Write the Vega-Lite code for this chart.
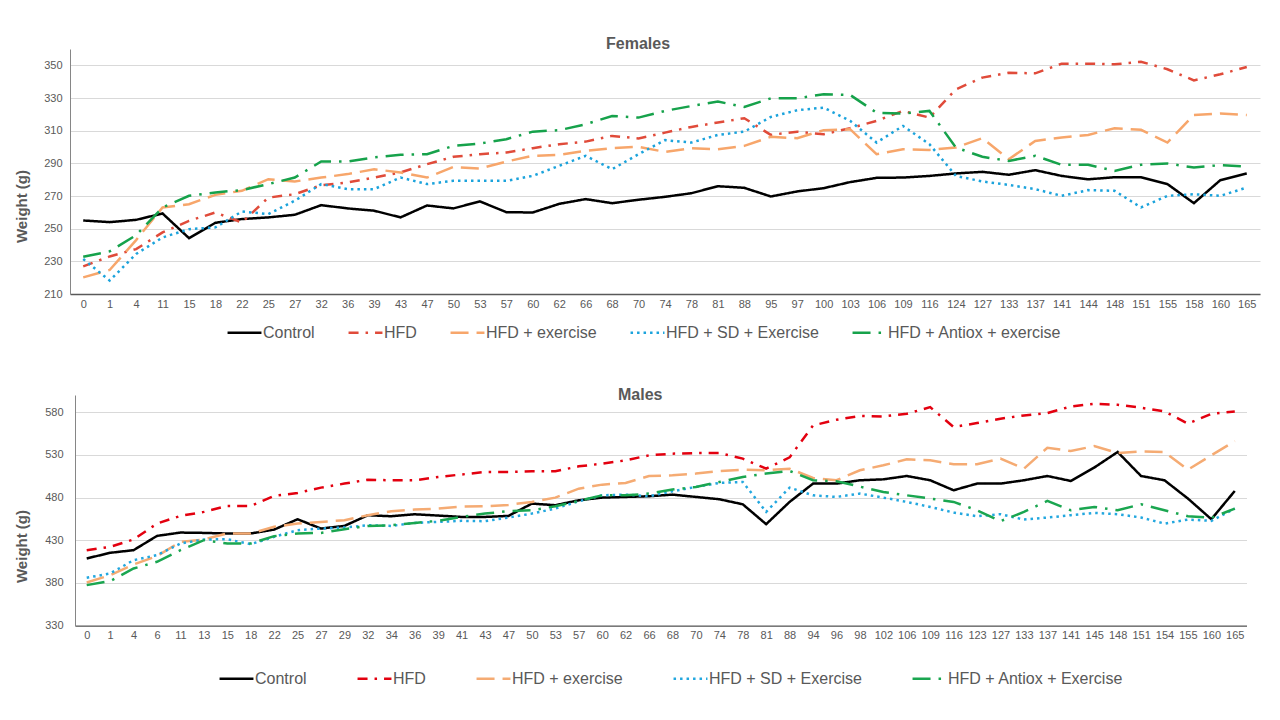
{
  "$schema": "https://vega.github.io/schema/vega-lite/v6.json",
  "padding": {"left": 14, "top": 36, "right": 10, "bottom": 5},
  "config": {
    "font": "Liberation Sans",
    "view": {"stroke": null},
    "axis": {"labelColor": "#595959", "titleColor": "#595959", "gridColor": "#D9D9D9", "domainColor": "#868686", "ticks": false, "labelFont": "Liberation Sans", "labelFontSize": 11, "titleFont": "Liberation Sans"},
    "title": {"fontSize": 16, "color": "#595959", "font": "Liberation Sans", "fontWeight": "bold"},
    "legend": {"symbolType": "stroke", "symbolSize": 1150, "symbolStrokeWidth": 2.5, "labelFontSize": 16, "labelColor": "#595959", "labelOffset": 0, "labelLimit": 400, "labelFont": "Liberation Sans"},
    "concat": {"spacing": 46}
  },
  "datasets": {
    "females": [
      {"day":0,"group":"Control","weight":255},{"day":1,"group":"Control","weight":254},{"day":4,"group":"Control","weight":255.4},{"day":11,"group":"Control","weight":259.3},{"day":15,"group":"Control","weight":244.2},{"day":18,"group":"Control","weight":253.6},{"day":22,"group":"Control","weight":255.9},{"day":25,"group":"Control","weight":256.9},{"day":27,"group":"Control","weight":258.5},{"day":32,"group":"Control","weight":264.4},{"day":36,"group":"Control","weight":262.4},{"day":39,"group":"Control","weight":261},{"day":43,"group":"Control","weight":256.9},{"day":47,"group":"Control","weight":264.2},{"day":50,"group":"Control","weight":262.4},{"day":53,"group":"Control","weight":266.7},{"day":57,"group":"Control","weight":260.1},{"day":60,"group":"Control","weight":259.9},{"day":62,"group":"Control","weight":265.2},{"day":66,"group":"Control","weight":268.1},{"day":68,"group":"Control","weight":265.6},{"day":70,"group":"Control","weight":267.7},{"day":74,"group":"Control","weight":269.5},{"day":78,"group":"Control","weight":271.7},{"day":81,"group":"Control","weight":276},{"day":88,"group":"Control","weight":275},{"day":95,"group":"Control","weight":269.7},{"day":97,"group":"Control","weight":272.8},{"day":100,"group":"Control","weight":274.8},{"day":103,"group":"Control","weight":278.5},{"day":106,"group":"Control","weight":281.1},{"day":109,"group":"Control","weight":281.3},{"day":116,"group":"Control","weight":282.3},{"day":124,"group":"Control","weight":283.8},{"day":127,"group":"Control","weight":284.8},{"day":133,"group":"Control","weight":283},{"day":137,"group":"Control","weight":285.8},{"day":141,"group":"Control","weight":282.3},{"day":144,"group":"Control","weight":280.2},{"day":148,"group":"Control","weight":281.5},{"day":151,"group":"Control","weight":281.5},{"day":155,"group":"Control","weight":277.3},{"day":158,"group":"Control","weight":265.6},{"day":160,"group":"Control","weight":279.7},{"day":165,"group":"Control","weight":283.8},
      {"day":0,"group":"HFD","weight":226.9},{"day":1,"group":"HFD","weight":233},{"day":4,"group":"HFD","weight":237.5},{"day":11,"group":"HFD","weight":247.7},{"day":15,"group":"HFD","weight":254.8},{"day":18,"group":"HFD","weight":259.9},{"day":22,"group":"HFD","weight":253.8},{"day":25,"group":"HFD","weight":269},{"day":27,"group":"HFD","weight":271.1},{"day":32,"group":"HFD","weight":276.6},{"day":36,"group":"HFD","weight":278.3},{"day":39,"group":"HFD","weight":281.3},{"day":43,"group":"HFD","weight":284.4},{"day":47,"group":"HFD","weight":289.5},{"day":50,"group":"HFD","weight":294},{"day":53,"group":"HFD","weight":295.6},{"day":57,"group":"HFD","weight":296.6},{"day":60,"group":"HFD","weight":299.3},{"day":62,"group":"HFD","weight":301.7},{"day":66,"group":"HFD","weight":303.3},{"day":68,"group":"HFD","weight":306.8},{"day":70,"group":"HFD","weight":305.2},{"day":74,"group":"HFD","weight":308.8},{"day":78,"group":"HFD","weight":312.3},{"day":81,"group":"HFD","weight":315},{"day":88,"group":"HFD","weight":317.6},{"day":95,"group":"HFD","weight":307.4},{"day":97,"group":"HFD","weight":309.4},{"day":100,"group":"HFD","weight":307.8},{"day":103,"group":"HFD","weight":311.5},{"day":106,"group":"HFD","weight":316},{"day":109,"group":"HFD","weight":322.1},{"day":116,"group":"HFD","weight":318},{"day":124,"group":"HFD","weight":335.3},{"day":127,"group":"HFD","weight":342.5},{"day":133,"group":"HFD","weight":345.5},{"day":137,"group":"HFD","weight":345.1},{"day":141,"group":"HFD","weight":351},{"day":144,"group":"HFD","weight":351},{"day":148,"group":"HFD","weight":350.6},{"day":151,"group":"HFD","weight":352.2},{"day":155,"group":"HFD","weight":347.6},{"day":158,"group":"HFD","weight":340.8},{"day":160,"group":"HFD","weight":344.5},{"day":165,"group":"HFD","weight":349},
      {"day":0,"group":"HFD + exercise","weight":220.2},{"day":1,"group":"HFD + exercise","weight":224.7},{"day":4,"group":"HFD + exercise","weight":243},{"day":11,"group":"HFD + exercise","weight":263},{"day":15,"group":"HFD + exercise","weight":265},{"day":18,"group":"HFD + exercise","weight":270.7},{"day":22,"group":"HFD + exercise","weight":273.2},{"day":25,"group":"HFD + exercise","weight":280.3},{"day":27,"group":"HFD + exercise","weight":278.9},{"day":32,"group":"HFD + exercise","weight":281.3},{"day":36,"group":"HFD + exercise","weight":283.4},{"day":39,"group":"HFD + exercise","weight":286.4},{"day":43,"group":"HFD + exercise","weight":284.4},{"day":47,"group":"HFD + exercise","weight":281.3},{"day":50,"group":"HFD + exercise","weight":287.8},{"day":53,"group":"HFD + exercise","weight":286.8},{"day":57,"group":"HFD + exercise","weight":291.1},{"day":60,"group":"HFD + exercise","weight":294.6},{"day":62,"group":"HFD + exercise","weight":295.2},{"day":66,"group":"HFD + exercise","weight":297.6},{"day":68,"group":"HFD + exercise","weight":299.3},{"day":70,"group":"HFD + exercise","weight":300.1},{"day":74,"group":"HFD + exercise","weight":297},{"day":78,"group":"HFD + exercise","weight":299.3},{"day":81,"group":"HFD + exercise","weight":298.6},{"day":88,"group":"HFD + exercise","weight":300.7},{"day":95,"group":"HFD + exercise","weight":306.2},{"day":97,"group":"HFD + exercise","weight":305.4},{"day":100,"group":"HFD + exercise","weight":310.3},{"day":103,"group":"HFD + exercise","weight":310.9},{"day":106,"group":"HFD + exercise","weight":295.6},{"day":109,"group":"HFD + exercise","weight":298.6},{"day":116,"group":"HFD + exercise","weight":298.2},{"day":124,"group":"HFD + exercise","weight":299.7},{"day":127,"group":"HFD + exercise","weight":305.4},{"day":133,"group":"HFD + exercise","weight":292.5},{"day":137,"group":"HFD + exercise","weight":303.7},{"day":141,"group":"HFD + exercise","weight":305.8},{"day":144,"group":"HFD + exercise","weight":307.4},{"day":148,"group":"HFD + exercise","weight":311.5},{"day":151,"group":"HFD + exercise","weight":310.5},{"day":155,"group":"HFD + exercise","weight":302.7},{"day":158,"group":"HFD + exercise","weight":319.6},{"day":160,"group":"HFD + exercise","weight":320.5},{"day":165,"group":"HFD + exercise","weight":319.6},
      {"day":0,"group":"HFD + SD + Exercise","weight":231.4},{"day":1,"group":"HFD + SD + Exercise","weight":218.2},{"day":4,"group":"HFD + SD + Exercise","weight":234.5},{"day":11,"group":"HFD + SD + Exercise","weight":244.6},{"day":15,"group":"HFD + SD + Exercise","weight":249.7},{"day":18,"group":"HFD + SD + Exercise","weight":250.8},{"day":22,"group":"HFD + SD + Exercise","weight":260.5},{"day":25,"group":"HFD + SD + Exercise","weight":258.9},{"day":27,"group":"HFD + SD + Exercise","weight":267.1},{"day":32,"group":"HFD + SD + Exercise","weight":277.3},{"day":36,"group":"HFD + SD + Exercise","weight":274.2},{"day":39,"group":"HFD + SD + Exercise","weight":274.2},{"day":43,"group":"HFD + SD + Exercise","weight":281.3},{"day":47,"group":"HFD + SD + Exercise","weight":277.3},{"day":50,"group":"HFD + SD + Exercise","weight":279.3},{"day":53,"group":"HFD + SD + Exercise","weight":279.3},{"day":57,"group":"HFD + SD + Exercise","weight":279.3},{"day":60,"group":"HFD + SD + Exercise","weight":282.3},{"day":62,"group":"HFD + SD + Exercise","weight":288.5},{"day":66,"group":"HFD + SD + Exercise","weight":294.6},{"day":68,"group":"HFD + SD + Exercise","weight":286.4},{"day":70,"group":"HFD + SD + Exercise","weight":295.6},{"day":74,"group":"HFD + SD + Exercise","weight":304.2},{"day":78,"group":"HFD + SD + Exercise","weight":302.7},{"day":81,"group":"HFD + SD + Exercise","weight":307.4},{"day":88,"group":"HFD + SD + Exercise","weight":309.4},{"day":95,"group":"HFD + SD + Exercise","weight":318.4},{"day":97,"group":"HFD + SD + Exercise","weight":322.5},{"day":100,"group":"HFD + SD + Exercise","weight":324.1},{"day":103,"group":"HFD + SD + Exercise","weight":316},{"day":106,"group":"HFD + SD + Exercise","weight":302.7},{"day":109,"group":"HFD + SD + Exercise","weight":312.9},{"day":116,"group":"HFD + SD + Exercise","weight":301.7},{"day":124,"group":"HFD + SD + Exercise","weight":282.3},{"day":127,"group":"HFD + SD + Exercise","weight":278.9},{"day":133,"group":"HFD + SD + Exercise","weight":276.8},{"day":137,"group":"HFD + SD + Exercise","weight":274.2},{"day":141,"group":"HFD + SD + Exercise","weight":270.1},{"day":144,"group":"HFD + SD + Exercise","weight":273.6},{"day":148,"group":"HFD + SD + Exercise","weight":273.2},{"day":151,"group":"HFD + SD + Exercise","weight":263},{"day":155,"group":"HFD + SD + Exercise","weight":270.1},{"day":158,"group":"HFD + SD + Exercise","weight":271.1},{"day":160,"group":"HFD + SD + Exercise","weight":270.1},{"day":165,"group":"HFD + SD + Exercise","weight":275.2},
      {"day":0,"group":"HFD + Antiox + exercise","weight":232.8},{"day":1,"group":"HFD + Antiox + exercise","weight":236.1},{"day":4,"group":"HFD + Antiox + exercise","weight":246},{"day":11,"group":"HFD + Antiox + exercise","weight":263},{"day":15,"group":"HFD + Antiox + exercise","weight":270.1},{"day":18,"group":"HFD + Antiox + exercise","weight":272.2},{"day":22,"group":"HFD + Antiox + exercise","weight":273.6},{"day":25,"group":"HFD + Antiox + exercise","weight":277.3},{"day":27,"group":"HFD + Antiox + exercise","weight":281.3},{"day":32,"group":"HFD + Antiox + exercise","weight":291.1},{"day":36,"group":"HFD + Antiox + exercise","weight":291.1},{"day":39,"group":"HFD + Antiox + exercise","weight":293.6},{"day":43,"group":"HFD + Antiox + exercise","weight":295.2},{"day":47,"group":"HFD + Antiox + exercise","weight":295.6},{"day":50,"group":"HFD + Antiox + exercise","weight":300.7},{"day":53,"group":"HFD + Antiox + exercise","weight":302.1},{"day":57,"group":"HFD + Antiox + exercise","weight":304.8},{"day":60,"group":"HFD + Antiox + exercise","weight":309.4},{"day":62,"group":"HFD + Antiox + exercise","weight":310.3},{"day":66,"group":"HFD + Antiox + exercise","weight":313.9},{"day":68,"group":"HFD + Antiox + exercise","weight":319},{"day":70,"group":"HFD + Antiox + exercise","weight":318},{"day":74,"group":"HFD + Antiox + exercise","weight":322.1},{"day":78,"group":"HFD + Antiox + exercise","weight":325.1},{"day":81,"group":"HFD + Antiox + exercise","weight":327.8},{"day":88,"group":"HFD + Antiox + exercise","weight":324.5},{"day":95,"group":"HFD + Antiox + exercise","weight":329.8},{"day":97,"group":"HFD + Antiox + exercise","weight":329.8},{"day":100,"group":"HFD + Antiox + exercise","weight":332.3},{"day":103,"group":"HFD + Antiox + exercise","weight":331.9},{"day":106,"group":"HFD + Antiox + exercise","weight":321},{"day":109,"group":"HFD + Antiox + exercise","weight":320.5},{"day":116,"group":"HFD + Antiox + exercise","weight":322.1},{"day":124,"group":"HFD + Antiox + exercise","weight":299.7},{"day":127,"group":"HFD + Antiox + exercise","weight":294},{"day":133,"group":"HFD + Antiox + exercise","weight":291.5},{"day":137,"group":"HFD + Antiox + exercise","weight":294.6},{"day":141,"group":"HFD + Antiox + exercise","weight":289.1},{"day":144,"group":"HFD + Antiox + exercise","weight":289.1},{"day":148,"group":"HFD + Antiox + exercise","weight":285.4},{"day":151,"group":"HFD + Antiox + exercise","weight":289.1},{"day":155,"group":"HFD + Antiox + exercise","weight":289.9},{"day":158,"group":"HFD + Antiox + exercise","weight":287.4},{"day":160,"group":"HFD + Antiox + exercise","weight":288.9},{"day":165,"group":"HFD + Antiox + exercise","weight":288.1}
    ],
    "males": [
      {"day":0,"group":"Control","weight":408.7},{"day":1,"group":"Control","weight":415.3},{"day":4,"group":"Control","weight":418.4},{"day":6,"group":"Control","weight":435.1},{"day":11,"group":"Control","weight":439},{"day":13,"group":"Control","weight":438.6},{"day":15,"group":"Control","weight":437.9},{"day":18,"group":"Control","weight":437.9},{"day":22,"group":"Control","weight":442.5},{"day":25,"group":"Control","weight":454.6},{"day":27,"group":"Control","weight":443.7},{"day":29,"group":"Control","weight":446.8},{"day":32,"group":"Control","weight":459.3},{"day":34,"group":"Control","weight":458.1},{"day":36,"group":"Control","weight":460.4},{"day":39,"group":"Control","weight":458.9},{"day":41,"group":"Control","weight":457.3},{"day":43,"group":"Control","weight":457.3},{"day":47,"group":"Control","weight":458.5},{"day":50,"group":"Control","weight":472.9},{"day":53,"group":"Control","weight":471},{"day":57,"group":"Control","weight":476.8},{"day":60,"group":"Control","weight":479.9},{"day":62,"group":"Control","weight":480.7},{"day":66,"group":"Control","weight":481.5},{"day":68,"group":"Control","weight":483.4},{"day":70,"group":"Control","weight":480.7},{"day":74,"group":"Control","weight":478},{"day":78,"group":"Control","weight":472.1},{"day":81,"group":"Control","weight":448.8},{"day":88,"group":"Control","weight":474.9},{"day":94,"group":"Control","weight":496.3},{"day":96,"group":"Control","weight":496.3},{"day":98,"group":"Control","weight":500.2},{"day":102,"group":"Control","weight":501.3},{"day":106,"group":"Control","weight":505.2},{"day":109,"group":"Control","weight":500.2},{"day":116,"group":"Control","weight":488.5},{"day":123,"group":"Control","weight":496.3},{"day":127,"group":"Control","weight":496.3},{"day":133,"group":"Control","weight":500.2},{"day":137,"group":"Control","weight":505.2},{"day":141,"group":"Control","weight":499.4},{"day":145,"group":"Control","weight":515},{"day":148,"group":"Control","weight":533.3},{"day":151,"group":"Control","weight":505.2},{"day":154,"group":"Control","weight":500.2},{"day":155,"group":"Control","weight":478.8},{"day":160,"group":"Control","weight":454.6},{"day":165,"group":"Control","weight":487.7},
      {"day":0,"group":"HFD","weight":418.4},{"day":1,"group":"HFD","weight":422.3},{"day":4,"group":"HFD","weight":430.9},{"day":6,"group":"HFD","weight":449.5},{"day":11,"group":"HFD","weight":458.5},{"day":13,"group":"HFD","weight":463.2},{"day":15,"group":"HFD","weight":470.2},{"day":18,"group":"HFD","weight":470.2},{"day":22,"group":"HFD","weight":481.9},{"day":25,"group":"HFD","weight":485.4},{"day":27,"group":"HFD","weight":491.6},{"day":29,"group":"HFD","weight":496.3},{"day":32,"group":"HFD","weight":500.9},{"day":34,"group":"HFD","weight":500.2},{"day":36,"group":"HFD","weight":500.2},{"day":39,"group":"HFD","weight":504.1},{"day":41,"group":"HFD","weight":507},{"day":43,"group":"HFD","weight":509.9},{"day":47,"group":"HFD","weight":509.9},{"day":50,"group":"HFD","weight":510.7},{"day":53,"group":"HFD","weight":510.7},{"day":57,"group":"HFD","weight":516.5},{"day":60,"group":"HFD","weight":519.6},{"day":62,"group":"HFD","weight":523.5},{"day":66,"group":"HFD","weight":529.4},{"day":68,"group":"HFD","weight":531.3},{"day":70,"group":"HFD","weight":532.1},{"day":74,"group":"HFD","weight":532.1},{"day":78,"group":"HFD","weight":525.5},{"day":81,"group":"HFD","weight":513.8},{"day":88,"group":"HFD","weight":527},{"day":94,"group":"HFD","weight":564.4},{"day":96,"group":"HFD","weight":571},{"day":98,"group":"HFD","weight":575.5},{"day":102,"group":"HFD","weight":574.9},{"day":106,"group":"HFD","weight":578},{"day":109,"group":"HFD","weight":585.8},{"day":116,"group":"HFD","weight":562.5},{"day":123,"group":"HFD","weight":567.2},{"day":127,"group":"HFD","weight":572.2},{"day":133,"group":"HFD","weight":576.1},{"day":137,"group":"HFD","weight":578.8},{"day":141,"group":"HFD","weight":586.6},{"day":145,"group":"HFD","weight":589.7},{"day":148,"group":"HFD","weight":588.6},{"day":151,"group":"HFD","weight":585.1},{"day":154,"group":"HFD","weight":580.8},{"day":155,"group":"HFD","weight":566.4},{"day":160,"group":"HFD","weight":578},{"day":165,"group":"HFD","weight":580.8},
      {"day":0,"group":"HFD + exercise","weight":380.6},{"day":1,"group":"HFD + exercise","weight":389.2},{"day":4,"group":"HFD + exercise","weight":401.7},{"day":6,"group":"HFD + exercise","weight":411.4},{"day":11,"group":"HFD + exercise","weight":428.1},{"day":13,"group":"HFD + exercise","weight":430.9},{"day":15,"group":"HFD + exercise","weight":437.9},{"day":18,"group":"HFD + exercise","weight":437.9},{"day":22,"group":"HFD + exercise","weight":445.7},{"day":25,"group":"HFD + exercise","weight":449.5},{"day":27,"group":"HFD + exercise","weight":451.5},{"day":29,"group":"HFD + exercise","weight":453.4},{"day":32,"group":"HFD + exercise","weight":459.3},{"day":34,"group":"HFD + exercise","weight":464},{"day":36,"group":"HFD + exercise","weight":465.9},{"day":39,"group":"HFD + exercise","weight":467.1},{"day":41,"group":"HFD + exercise","weight":469.4},{"day":43,"group":"HFD + exercise","weight":469.8},{"day":47,"group":"HFD + exercise","weight":471.4},{"day":50,"group":"HFD + exercise","weight":474.9},{"day":53,"group":"HFD + exercise","weight":479.9},{"day":57,"group":"HFD + exercise","weight":490.4},{"day":60,"group":"HFD + exercise","weight":495.1},{"day":62,"group":"HFD + exercise","weight":497.1},{"day":66,"group":"HFD + exercise","weight":505.2},{"day":68,"group":"HFD + exercise","weight":506},{"day":70,"group":"HFD + exercise","weight":508},{"day":74,"group":"HFD + exercise","weight":511.1},{"day":78,"group":"HFD + exercise","weight":512.6},{"day":81,"group":"HFD + exercise","weight":511.9},{"day":88,"group":"HFD + exercise","weight":513.8},{"day":94,"group":"HFD + exercise","weight":502.9},{"day":96,"group":"HFD + exercise","weight":500.2},{"day":98,"group":"HFD + exercise","weight":511.9},{"day":102,"group":"HFD + exercise","weight":517.7},{"day":106,"group":"HFD + exercise","weight":524.7},{"day":109,"group":"HFD + exercise","weight":523.5},{"day":116,"group":"HFD + exercise","weight":518.9},{"day":123,"group":"HFD + exercise","weight":518.9},{"day":127,"group":"HFD + exercise","weight":525.5},{"day":133,"group":"HFD + exercise","weight":513.8},{"day":137,"group":"HFD + exercise","weight":538.3},{"day":141,"group":"HFD + exercise","weight":534.4},{"day":145,"group":"HFD + exercise","weight":540.2},{"day":148,"group":"HFD + exercise","weight":532.1},{"day":151,"group":"HFD + exercise","weight":534},{"day":154,"group":"HFD + exercise","weight":533.3},{"day":155,"group":"HFD + exercise","weight":512.6},{"day":160,"group":"HFD + exercise","weight":529.4},{"day":165,"group":"HFD + exercise","weight":546.1},
      {"day":0,"group":"HFD + SD + Exercise","weight":386.1},{"day":1,"group":"HFD + SD + Exercise","weight":391.1},{"day":4,"group":"HFD + SD + Exercise","weight":406.7},{"day":6,"group":"HFD + SD + Exercise","weight":412.6},{"day":11,"group":"HFD + SD + Exercise","weight":426.2},{"day":13,"group":"HFD + SD + Exercise","weight":430.9},{"day":15,"group":"HFD + SD + Exercise","weight":431.2},{"day":18,"group":"HFD + SD + Exercise","weight":425.4},{"day":22,"group":"HFD + SD + Exercise","weight":434},{"day":25,"group":"HFD + SD + Exercise","weight":441.8},{"day":27,"group":"HFD + SD + Exercise","weight":443.7},{"day":29,"group":"HFD + SD + Exercise","weight":444.9},{"day":32,"group":"HFD + SD + Exercise","weight":447.6},{"day":34,"group":"HFD + SD + Exercise","weight":446.8},{"day":36,"group":"HFD + SD + Exercise","weight":450.3},{"day":39,"group":"HFD + SD + Exercise","weight":451.5},{"day":41,"group":"HFD + SD + Exercise","weight":452.7},{"day":43,"group":"HFD + SD + Exercise","weight":452.3},{"day":47,"group":"HFD + SD + Exercise","weight":456.6},{"day":50,"group":"HFD + SD + Exercise","weight":461.2},{"day":53,"group":"HFD + SD + Exercise","weight":467.1},{"day":57,"group":"HFD + SD + Exercise","weight":475.6},{"day":60,"group":"HFD + SD + Exercise","weight":482.6},{"day":62,"group":"HFD + SD + Exercise","weight":483.4},{"day":66,"group":"HFD + SD + Exercise","weight":481.5},{"day":68,"group":"HFD + SD + Exercise","weight":487.3},{"day":70,"group":"HFD + SD + Exercise","weight":492.4},{"day":74,"group":"HFD + SD + Exercise","weight":497.1},{"day":78,"group":"HFD + SD + Exercise","weight":498.2},{"day":81,"group":"HFD + SD + Exercise","weight":463.2},{"day":88,"group":"HFD + SD + Exercise","weight":491.6},{"day":94,"group":"HFD + SD + Exercise","weight":482.6},{"day":96,"group":"HFD + SD + Exercise","weight":480.7},{"day":98,"group":"HFD + SD + Exercise","weight":484.6},{"day":102,"group":"HFD + SD + Exercise","weight":479.9},{"day":106,"group":"HFD + SD + Exercise","weight":474.9},{"day":109,"group":"HFD + SD + Exercise","weight":469},{"day":116,"group":"HFD + SD + Exercise","weight":462.4},{"day":123,"group":"HFD + SD + Exercise","weight":458.1},{"day":127,"group":"HFD + SD + Exercise","weight":460.5},{"day":133,"group":"HFD + SD + Exercise","weight":454.2},{"day":137,"group":"HFD + SD + Exercise","weight":456.6},{"day":141,"group":"HFD + SD + Exercise","weight":459.3},{"day":145,"group":"HFD + SD + Exercise","weight":462},{"day":148,"group":"HFD + SD + Exercise","weight":460.5},{"day":151,"group":"HFD + SD + Exercise","weight":456.6},{"day":154,"group":"HFD + SD + Exercise","weight":449.5},{"day":155,"group":"HFD + SD + Exercise","weight":454.2},{"day":160,"group":"HFD + SD + Exercise","weight":452.7},{"day":165,"group":"HFD + SD + Exercise","weight":467.1},
      {"day":0,"group":"HFD + Antiox + Exercise","weight":377.5},{"day":1,"group":"HFD + Antiox + Exercise","weight":382.2},{"day":4,"group":"HFD + Antiox + Exercise","weight":397},{"day":6,"group":"HFD + Antiox + Exercise","weight":404.8},{"day":11,"group":"HFD + Antiox + Exercise","weight":418.4},{"day":13,"group":"HFD + Antiox + Exercise","weight":430.1},{"day":15,"group":"HFD + Antiox + Exercise","weight":426.2},{"day":18,"group":"HFD + Antiox + Exercise","weight":426.2},{"day":22,"group":"HFD + Antiox + Exercise","weight":434.8},{"day":25,"group":"HFD + Antiox + Exercise","weight":437.9},{"day":27,"group":"HFD + Antiox + Exercise","weight":438.6},{"day":29,"group":"HFD + Antiox + Exercise","weight":442.9},{"day":32,"group":"HFD + Antiox + Exercise","weight":446.8},{"day":34,"group":"HFD + Antiox + Exercise","weight":447.6},{"day":36,"group":"HFD + Antiox + Exercise","weight":450.3},{"day":39,"group":"HFD + Antiox + Exercise","weight":452.7},{"day":41,"group":"HFD + Antiox + Exercise","weight":457.3},{"day":43,"group":"HFD + Antiox + Exercise","weight":461.2},{"day":47,"group":"HFD + Antiox + Exercise","weight":464},{"day":50,"group":"HFD + Antiox + Exercise","weight":465.1},{"day":53,"group":"HFD + Antiox + Exercise","weight":469.8},{"day":57,"group":"HFD + Antiox + Exercise","weight":476},{"day":60,"group":"HFD + Antiox + Exercise","weight":482.6},{"day":62,"group":"HFD + Antiox + Exercise","weight":482.6},{"day":66,"group":"HFD + Antiox + Exercise","weight":484.6},{"day":68,"group":"HFD + Antiox + Exercise","weight":489.3},{"day":70,"group":"HFD + Antiox + Exercise","weight":492.4},{"day":74,"group":"HFD + Antiox + Exercise","weight":498.2},{"day":78,"group":"HFD + Antiox + Exercise","weight":504.1},{"day":81,"group":"HFD + Antiox + Exercise","weight":508},{"day":88,"group":"HFD + Antiox + Exercise","weight":511.1},{"day":94,"group":"HFD + Antiox + Exercise","weight":500.2},{"day":96,"group":"HFD + Antiox + Exercise","weight":499},{"day":98,"group":"HFD + Antiox + Exercise","weight":492.8},{"day":102,"group":"HFD + Antiox + Exercise","weight":486.5},{"day":106,"group":"HFD + Antiox + Exercise","weight":482.6},{"day":109,"group":"HFD + Antiox + Exercise","weight":478.8},{"day":116,"group":"HFD + Antiox + Exercise","weight":474.9},{"day":123,"group":"HFD + Antiox + Exercise","weight":465.1},{"day":127,"group":"HFD + Antiox + Exercise","weight":452.3},{"day":133,"group":"HFD + Antiox + Exercise","weight":463.2},{"day":137,"group":"HFD + Antiox + Exercise","weight":476},{"day":141,"group":"HFD + Antiox + Exercise","weight":465.1},{"day":145,"group":"HFD + Antiox + Exercise","weight":469},{"day":148,"group":"HFD + Antiox + Exercise","weight":465.1},{"day":151,"group":"HFD + Antiox + Exercise","weight":472.1},{"day":154,"group":"HFD + Antiox + Exercise","weight":465.1},{"day":155,"group":"HFD + Antiox + Exercise","weight":458.1},{"day":160,"group":"HFD + Antiox + Exercise","weight":456.2},{"day":165,"group":"HFD + Antiox + Exercise","weight":467.1}
    ]
  },
  "columns": 1,
  "align": "none",
  "resolve": {
    "scale": {"color": "independent", "strokeDash": "independent", "x": "independent", "y": "independent"},
    "legend": {"color": "independent", "strokeDash": "independent"}
  },
  "concat": [
    {
      "title": {"text": "Females", "dx": -27, "offset": -3},
      "width": 1190,
      "height": 245,
      "data": {"name": "females"},
      "mark": {"type": "line", "strokeWidth": 2.5},
      "encoding": {
        "x": {"field": "day", "type": "ordinal", "scale": {"padding": 0.5},
              "axis": {"title": null, "labelAngle": 0, "labelPadding": 4, "domainColor": "#595959", "domainWidth": 1.3}},
        "y": {"field": "weight", "type": "quantitative",
              "scale": {"domain": [210, 360], "nice": false, "zero": false},
              "axis": {"values": [210, 230, 250, 270, 290, 310, 330, 350], "title": "Weight (g)", "titleFontSize": 15, "titleFontWeight": "bold", "labelPadding": 8, "titleX": -41, "titleY": 157}},
        "color": {"field": "group", "type": "nominal",
                  "scale": {"domain": ["Control", "HFD", "HFD + exercise", "HFD + SD + Exercise", "HFD + Antiox + exercise"],
                            "range": ["#000000", "#E04B3A", "#F7A66B", "#1BA3DC", "#16A24B"]},
                  "legend": {"title": null, "orient": "none", "direction": "horizontal", "legendX": 156, "legendY": 265, "columnPadding": 28}},
        "strokeDash": {"field": "group", "type": "nominal",
                       "scale": {"domain": ["Control", "HFD", "HFD + exercise", "HFD + SD + Exercise", "HFD + Antiox + exercise"],
                                 "range": [[1, 0], [10, 7, 2.5, 7], [18, 8], [2.5, 4], [18, 8, 2.5, 8]]},
                       "legend": {"title": null, "orient": "none", "direction": "horizontal", "legendX": 156, "legendY": 265, "columnPadding": 28}}
      }
    },
    {
      "title": {"text": "Males", "dx": -18, "offset": -8},
      "width": 1176.5,
      "height": 230.7,
      "data": {"name": "males"},
      "mark": {"type": "line", "strokeWidth": 2.5},
      "encoding": {
        "x": {"field": "day", "type": "ordinal", "scale": {"padding": 0.5, "range": [5, 1176.5]},
              "axis": {"title": null, "labelAngle": 0, "labelPadding": 4, "domainColor": "#595959", "domainWidth": 1.3}},
        "y": {"field": "weight", "type": "quantitative",
              "scale": {"domain": [330, 600], "nice": false, "zero": false},
              "axis": {"values": [330, 380, 430, 480, 530, 580], "title": "Weight (g)", "titleFontSize": 15, "titleFontWeight": "bold", "labelPadding": 12, "offset": -5, "titleX": -46, "titleY": 151}},
        "color": {"field": "group", "type": "nominal",
                  "scale": {"domain": ["Control", "HFD", "HFD + exercise", "HFD + SD + Exercise", "HFD + Antiox + Exercise"],
                            "range": ["#000000", "#E3000F", "#F5AB73", "#22A7DF", "#1AA650"]},
                  "legend": {"title": null, "orient": "none", "direction": "horizontal", "legendX": 148, "legendY": 265, "columnPadding": 45}},
        "strokeDash": {"field": "group", "type": "nominal",
                       "scale": {"domain": ["Control", "HFD", "HFD + exercise", "HFD + SD + Exercise", "HFD + Antiox + Exercise"],
                                 "range": [[1, 0], [10, 7, 2.5, 7], [18, 8], [2.5, 4], [18, 8, 2.5, 8]]},
                       "legend": {"title": null, "orient": "none", "direction": "horizontal", "legendX": 148, "legendY": 265, "columnPadding": 45}}
      }
    }
  ]
}
